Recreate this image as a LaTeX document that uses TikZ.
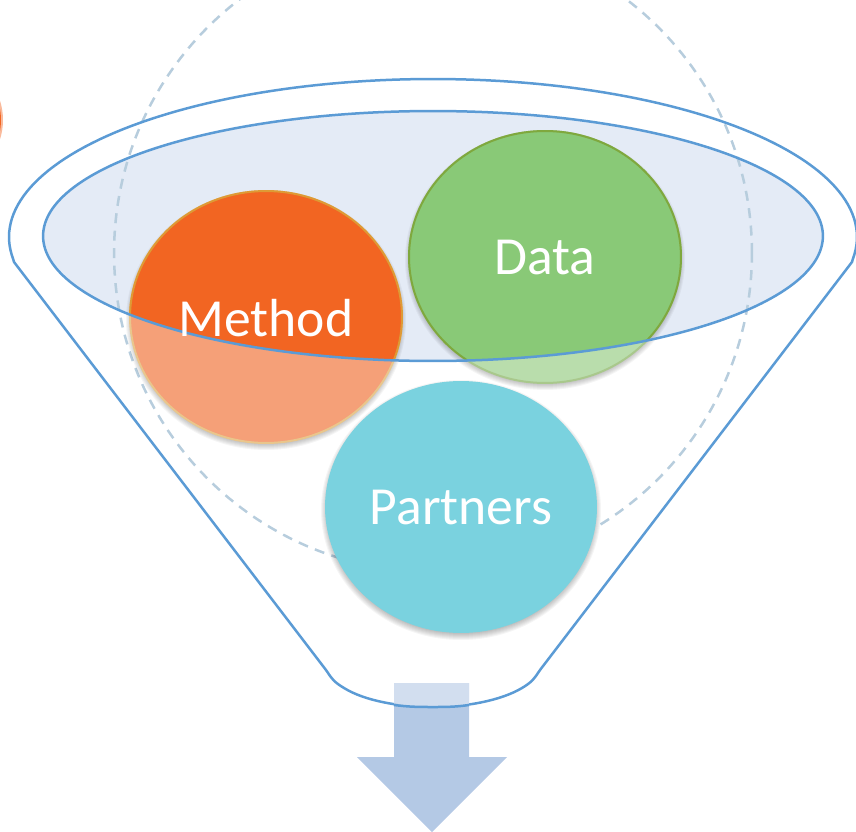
\documentclass[tikz,border=0pt]{standalone}
\usepackage{fontspec}
\setmainfont{Carlito}
\usetikzlibrary{shapes.geometric}
\definecolor{funnelblue}{HTML}{5B9BD5}
\definecolor{innerfill}{HTML}{E4EBF6}
\definecolor{dashblue}{HTML}{B7CDDD}
\definecolor{orangefull}{HTML}{F26522}
\definecolor{orangelight}{HTML}{F5A078}
\definecolor{orangeedge}{HTML}{DE9A35}
\definecolor{orangeedgelight}{HTML}{E9C68C}
\definecolor{greenfull}{HTML}{89C977}
\definecolor{greenlight}{HTML}{B9DDAC}
\definecolor{greenedge}{HTML}{7FA83E}
\definecolor{greenedgelight}{HTML}{A9C88C}
\definecolor{tealfull}{HTML}{7AD2DF}
\definecolor{arrowdark}{HTML}{B4C9E5}
\definecolor{arrowlight}{HTML}{D2DEEF}
\tikzset{
  ball/.style={ellipse,minimum width=5.44cm,minimum height=5.04cm,inner sep=0pt,line width=0.04cm},
  balltext/.style={text=white,font=\fontsize{30.5pt}{36pt}\selectfont,inner sep=0pt},
  funnelline/.style={draw=funnelblue,line width=0.05cm,line join=round},
}
\newcommand{\ballshadow}[2]{%
  \foreach \s in {0,1,...,6}{
    \fill[black,opacity=0.04] (#1,#2+3) ellipse [x radius={2.72cm+\s*0.02cm-0.04cm},y radius={2.52cm+\s*0.02cm-0.04cm}];
  }}
\begin{document}
\begin{tikzpicture}[x=0.02cm,y=-0.02cm]
\useasboundingbox (0,0) rectangle (856,832);
\clip (0,0) rectangle (856,832);
% partial orange shape at the left edge
\fill[orangefull!45] (-60,120) circle [radius=1.26cm];
\fill[orangefull] (-60,120) circle [radius=1.22cm];
% inner ellipse fill
\node[ellipse,fill=innerfill,minimum width=15.6cm,minimum height=5cm,inner sep=0pt] (mouthfill) at (433,236) {};
% dashed circle
\node[circle,draw=dashblue,dash pattern=on 0.2cm off 0.15cm,line width=0.05cm,minimum size=12.76cm,inner sep=0pt] (guide) at (433,253) {};
% funnel
\draw[funnelline] plot[domain=172:368,samples=120] ({433+424*cos(\x)},{237+158*sin(\x)})
  -- (852,262) -- (540,670)
  .. controls (534,679) and (532,682) .. (522,688)
  .. controls (500,701) and (465,707) .. (433,707)
  .. controls (400,707) and (365,701) .. (344,688)
  .. controls (334,682) and (332,679) .. (326,670)
  -- (14,262) -- cycle;
% arrow
\fill[arrowdark] (394,683) -- (469,683) -- (469,757) -- (507,757) -- (432,832) -- (357,757) -- (394,757) -- cycle;
\begin{scope}
  \clip (380,670) -- (490,670) -- (490,698) .. controls (470,705) and (450,707) .. (433,707) .. controls (415,707) and (395,705) .. (380,698) -- cycle;
  \fill[arrowlight] (394,683) rectangle (469,720);
\end{scope}
\draw[funnelblue,line width=0.05cm] (394,705) .. controls (410,707) and (420,707) .. (433,707) .. controls (445,707) and (455,707) .. (469,705);
% method
\ballshadow{266}{317}
\node[ball,fill=orangelight,draw=orangeedgelight] (method) at (266,317) {};
% data
\ballshadow{545}{257}
\node[ball,fill=greenlight,draw=greenedgelight] (data) at (545,257) {};
\begin{scope}
  \clip (433,236) ellipse [x radius=7.8cm,y radius=2.5cm];
  \node[ball,fill=orangefull,draw=orangeedge] (methodtop) at (266,317) {};
  \node[ball,fill=greenfull,draw=greenedge] (datatop) at (545,257) {};
\end{scope}
% inner ellipse outline
\node[ellipse,draw=funnelblue,line width=0.05cm,minimum width=15.6cm,minimum height=5cm,inner sep=0pt] (mouth) at (433,236) {};
% labels
\node[balltext] (methodlabel) at (266,318) {Method};
\node[balltext] (datalabel) at (545,258) {Data};
% partners
\ballshadow{461}{507}
\node[ball,fill=tealfull,draw=none,balltext] (partners) at (461,507) {Partners};
\end{tikzpicture}
\end{document}
